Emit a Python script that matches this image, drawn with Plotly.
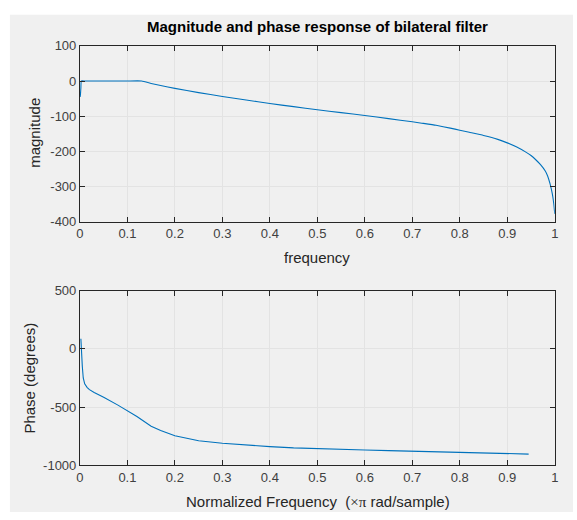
import plotly.graph_objects as go

# ---- data ----
mag_freq = [0.0005, 0.001, 0.002, 0.003, 0.01, 0.05, 0.10, 0.13, 0.15, 0.17, 0.20, 0.25, 0.30,
            0.35, 0.40, 0.45, 0.50, 0.55, 0.60, 0.65, 0.70, 0.72, 0.75, 0.78, 0.80, 0.82,
            0.85, 0.88, 0.90, 0.92, 0.94, 0.95, 0.96, 0.97, 0.98, 0.985, 0.99, 0.995,
            0.998, 1.0]
mag_vals = [-45, -40, -20, 0, 0, 0, 0, 0, -7, -13, -21, -33, -44,
            -54, -64, -73, -82, -90, -98, -107, -116, -120, -126, -134, -140, -146,
            -155, -166, -176, -188, -203, -212, -224, -238, -256, -270, -292, -322,
            -350, -378]

ph_freq = [0.002, 0.0025, 0.003, 0.004, 0.005, 0.007, 0.01, 0.015, 0.02, 0.03, 0.05, 0.08,
           0.10, 0.12, 0.15, 0.17, 0.20, 0.25, 0.30, 0.35, 0.40, 0.45, 0.50, 0.55,
           0.60, 0.65, 0.70, 0.75, 0.80, 0.85, 0.90, 0.945]
ph_vals = [86, 20, -60, -110, -150, -250, -300, -330, -350, -375, -415, -483,
           -528, -580, -664, -700, -745, -788, -810, -826, -839, -850, -858, -864,
           -868, -873, -878, -882, -886, -890, -894, -903]

x_ticks = [0, 0.1, 0.2, 0.3, 0.4, 0.5, 0.6, 0.7, 0.8, 0.9, 1]
x_tick_text = ["0", "0.1", "0.2", "0.3", "0.4", "0.5", "0.6", "0.7", "0.8", "0.9", "1"]
mag_ticks = [100, 0, -100, -200, -300, -400]
mag_tick_text = ["100", "0", "-100", "-200", "-300", "-400"]
ph_ticks = [500, 0, -500, -1000]
ph_tick_text = ["500", "0", "-500", "-1000"]

title_text = "Magnitude and phase response of bilateral filter"

# ---- figure ----
W, H = 577, 520
LINE = "#0072BD"
AX = "#262626"
GRID = "#e3e3e3"
FONT = "Liberation Sans, Arial, sans-serif"
TICK_SIZE = 13
LABEL_SIZE = 15

fig = go.Figure()
fig.add_trace(go.Scatter(x=mag_freq, y=mag_vals, mode="lines",
                         line=dict(color=LINE, width=1.1, shape="spline", smoothing=0.4),
                         xaxis="x", yaxis="y", showlegend=False, hoverinfo="skip"))
fig.add_trace(go.Scatter(x=ph_freq, y=ph_vals, mode="lines",
                         line=dict(color=LINE, width=1.1), xaxis="x2", yaxis="y2",
                         showlegend=False, hoverinfo="skip"))

def px_x(p):
    return p / W

def px_y(p):
    return 1 - p / H

axis_common = dict(showline=True, linecolor=AX, linewidth=1, mirror="ticks",
                   ticks="inside", ticklen=5, tickcolor=AX, tickwidth=1,
                   showgrid=True, gridcolor=GRID, gridwidth=1, zeroline=False,
                   fixedrange=True,
                   tickfont=dict(family=FONT, size=TICK_SIZE, color="#404040"))

x_dom = [px_x(77), px_x(558.5)]

fig.update_layout(
    autosize=True,
    margin=dict(l=0, r=0, t=0, b=0, pad=0),
    paper_bgcolor="white",
    plot_bgcolor="white",
    font=dict(family=FONT, color=AX),
    hovermode=False,
    xaxis=dict(domain=x_dom, range=[0, 1], tickvals=x_ticks, ticktext=x_tick_text,
               anchor="y", **axis_common),
    yaxis=dict(domain=[px_y(221), px_y(40)], range=[-400, 100], tickvals=mag_ticks,
               ticktext=mag_tick_text, anchor="x", **axis_common),
    xaxis2=dict(domain=x_dom, range=[0, 1], tickvals=x_ticks, ticktext=x_tick_text,
                anchor="y2", **axis_common),
    yaxis2=dict(domain=[px_y(472), px_y(292)], range=[-1000, 500], tickvals=ph_ticks,
                ticktext=ph_tick_text, anchor="x2", **axis_common),
    shapes=[dict(type="rect", xref="paper", yref="paper",
                 x0=px_x(6), x1=1, y0=0, y1=px_y(8),
                 fillcolor="#f0f0f0", line=dict(width=0), layer="below")],
    annotations=[
        dict(text="<b>" + title_text + "</b>", x=px_x(318), y=px_y(20),
             xref="paper", yref="paper", xanchor="center", yanchor="middle",
             showarrow=False, font=dict(family=FONT, size=15, color="black")),
        dict(text="magnitude", x=px_x(31), y=px_y(130), textangle=-90,
             xref="paper", yref="paper", xanchor="center", yanchor="middle",
             showarrow=False, font=dict(family=FONT, size=LABEL_SIZE, color=AX)),
        dict(text="frequency", x=px_x(317.5), y=px_y(258),
             xref="paper", yref="paper", xanchor="center", yanchor="middle",
             showarrow=False, font=dict(family=FONT, size=LABEL_SIZE, color=AX)),
        dict(text="Phase (degrees)", x=px_x(26), y=px_y(382), textangle=-90,
             xref="paper", yref="paper", xanchor="center", yanchor="middle",
             showarrow=False, font=dict(family=FONT, size=LABEL_SIZE, color=AX)),
        dict(text="Normalized Frequency  (<span style='font-family:Liberation Serif, Times New Roman, serif'>×π</span> rad/sample)",
             x=px_x(318), y=px_y(509),
             xref="paper", yref="paper", xanchor="center", yanchor="middle",
             showarrow=False, font=dict(family=FONT, size=LABEL_SIZE, color=AX)),
    ],
)

post = (
    "document.documentElement.style.margin='0px';"
    "document.documentElement.style.overflow='hidden';"
    "document.body.style.margin='0px';"
    "document.body.style.padding='0px';"
    "document.body.style.overflow='hidden';"
    "var gd=document.getElementById('{plot_id}');"
    "Plotly.Plots.resize(gd);"
)

fig.write_html("out.html",
               default_width="100vw", default_height="100vh",
               config={"displayModeBar": False, "responsive": True, "staticPlot": True},
               post_script=post)
